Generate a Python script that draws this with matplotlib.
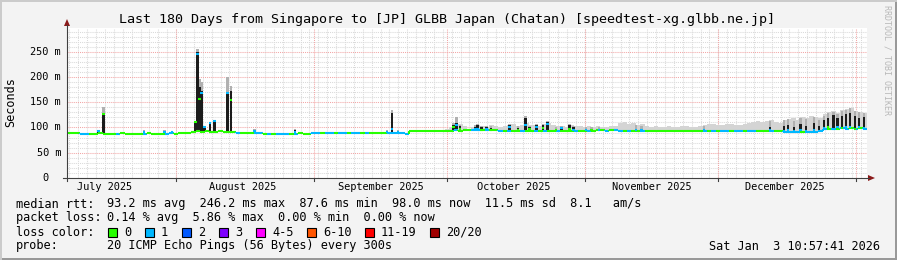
import datetime as dt
import matplotlib
matplotlib.use('Agg')
import matplotlib.pyplot as plt
from matplotlib.patches import Rectangle, Polygon
from matplotlib.lines import Line2D
from matplotlib.transforms import blended_transform_factory

W, H = 897, 260
MONO = 'DejaVu Sans Mono'

# time axis: 180 days ending Sat Jan 3 10:57:41 2026
start = dt.datetime(2025, 7, 7, 10, 57, 41)
n_days = 180

# daily median rtt (ms)
median_ms = [
    89.5, 89.2, 89.0,
    87.8, 88.0, 87.6, 88.0, 88.2, 87.8, 88.0, 87.8, 88.0, 88.2, 88.0, 87.8,
    88.0, 88.0, 87.8, 88.2, 88.0, 87.8, 88.0, 88.0, 88.2, 88.0, 88.4, 88.8,
    89.8,
    92.0, 92.5, 92.0, 92.5, 92.0, 92.0, 92.5, 92.0, 92.0, 91.5,
    89.5,
    88.5, 88.4, 88.6, 88.4, 88.5,
    88.0, 87.8, 88.0, 88.0, 87.8, 88.0, 87.8, 88.0, 88.2, 88.0, 87.8, 88.4,
    89.0, 88.8, 89.0, 89.2, 88.8, 89.0, 88.8, 89.0, 89.2, 89.0,
    88.8, 89.0, 89.0, 89.2, 88.8, 89.0, 89.0, 88.8, 89.0, 88.8,
    88.0,
    92.5, 92.4, 92.8, 93.0,
    93.4, 93.6, 93.2, 93.8, 93.5, 94.0,
    94.2, 94.0, 94.5, 94.2, 94.6,
    95.0, 94.6, 95.2, 94.8, 94.2,
    93.6, 93.8, 93.4, 93.6, 93.2, 93.8, 93.4,
    92.8, 92.6, 92.4, 92.8, 92.5, 92.6, 92.8,
    93.2, 93.6, 93.4, 93.8, 93.5, 93.6, 94.0, 93.8, 94.2, 94.4, 94.0, 94.2, 94.5,
    93.8, 94.0, 93.6, 93.8, 93.5, 93.6, 93.4, 93.5, 93.2, 93.4, 93.6,
    93.4, 93.2, 93.5, 93.4, 93.6, 93.3, 93.5, 93.4, 93.6, 93.8,
    93.5, 93.4, 93.6, 93.8, 93.5, 93.6, 93.4, 93.5, 93.6, 93.4,
    93.2, 93.5, 93.0, 93.4, 92.8, 92.5,
    91.6, 91.4, 91.8, 91.5, 91.6, 91.2, 91.5, 91.8, 92.2,
    96.5, 97.2, 98.0, 97.4, 98.2, 97.6, 98.4, 97.8, 98.2, 98.0,
]

# packets lost per day (0 or 1 of 20)
loss_per_day = [int(c) for c in (
    "000" "11" "000000" "1" "00000" "1" "0000" "11" "00000000000000"
    "1" "000" "11" "0" "101" "1101" "000" "11011" "0" "11" "0" "11" "0" "1"
    "0000" "11111" "0000000000" "1" "000" "11"
    "010010100100101001000100100010"
    "1101" "00" "1" "000000000000010" "1011011011" "000100" "111101111"
    "1010110101"
)]

# light smoke (max ping) from day 84 on
smoke_start = 84
smoke_max_ms = [
    96, 97, 100, 104, 106, 102, 98, 100,
    104, 103, 101, 104, 102, 101, 103, 104, 106, 102, 104, 108, 105, 104, 103, 106,
    108, 104, 102, 103, 101, 104, 103, 102, 101, 103, 100, 102, 101, 100, 102, 103,
    108, 110, 106, 108, 104, 106, 103,
    101, 102, 100, 101, 102, 100, 101, 103, 102, 101, 100, 102,
    104, 106, 107, 105, 104, 106, 107, 105, 104, 106, 108, 110,
    112, 110, 112, 114, 110, 108,
    114, 116, 118, 115, 120, 118, 122, 120, 118,
    126, 130, 132, 128, 134, 136, 138, 132, 130, 128,
]

# short high-latency events: day offset, median, dark smoke top, light smoke top, loss
spike_day = [7.1, 8.2, 17.3, 22.0, 23.6, 28.9, 29.3, 29.85, 30.3, 30.9, 32.2, 33.2,
             36.1, 36.9, 42.2, 51.3, 72.0, 73.1, 74.5, 86.9, 87.7, 88.4, 91.8,
             92.3, 93.2, 94.4, 95.4, 99.6, 101.5, 103.1, 104.0, 105.6, 107.1, 108.1,
             110.0, 111.3, 113.1, 114.0, 116.8, 118.0, 119.7, 128.0, 129.2, 143.3,
             158.2, 161.3, 162.2, 163.6, 165.1, 166.3, 168.1, 169.2, 170.3, 171.2,
             172.4, 173.3, 174.4, 175.3, 176.2, 177.3, 178.2, 179.3]
spike_med = [93, 126, 92, 92, 91, 110, 246, 157, 168, 100, 109, 112,
             168, 154, 93, 92, 91, 97, 92, 100, 105, 98, 98,
             97, 96, 98, 96, 101, 96, 104, 97, 101, 99, 107,
             96, 99, 98, 96, 96, 96, 95, 95, 96, 95,
             96, 94, 95, 93, 95, 94, 96, 94, 99, 100,
             98, 100, 99, 101, 100, 98, 101, 99]
spike_top = [95, 127, 94, 94, 93, 111, 250, 180, 172, 101, 110, 113,
             170, 173, 96, 96, 94, 128, 94, 104, 108, 102, 100,
             104, 100, 100, 99, 104, 99, 119, 100, 104, 104, 110,
             98, 100, 105, 100, 98, 98, 97, 98, 98, 98,
             101, 103, 105, 101, 106, 103, 108, 103, 114, 118,
             124, 118, 122, 126, 128, 122, 118, 120]
spike_smoke = [96, 140, 95, 95, 94, 112, 256, 197, 190, 102, 111, 114,
               200, 183, 97, 97, 95, 134, 95, 108, 120, 104, 104,
               106, 103, 103, 102, 106, 102, 122, 103, 106, 106, 112,
               101, 102, 106, 102, 101, 100, 100, 104, 103, 102,
               112, 114, 116, 112, 118, 116, 120, 115, 122, 128,
               130, 126, 132, 134, 138, 132, 130, 128]
spike_loss = [1, 0, 1, 1, 1, 0, 1, 0, 1, 1, 1, 1,
              1, 0, 1, 1, 1, 1, 1, 0, 1, 0, 1,
              1, 0, 1, 0, 1, 0, 1, 0, 1, 0, 1,
              0, 1, 0, 1, 1, 0, 1, 1, 1, 1,
              1, 1, 1, 1, 1, 1, 1, 1, 1, 0,
              1, 1, 0, 1, 1, 0, 1, 1]

month_names = ['July 2025', 'August 2025', 'September 2025', 'October 2025',
               'November 2025', 'December 2025']
month_firsts = [dt.datetime(2025, 7, 1), dt.datetime(2025, 8, 1), dt.datetime(2025, 9, 1),
                dt.datetime(2025, 10, 1), dt.datetime(2025, 11, 1), dt.datetime(2025, 12, 1),
                dt.datetime(2026, 1, 1)]
y_ticks = [0, 50, 100, 150, 200, 250]
y_tick_labels = ['0', '50 m', '100 m', '150 m', '200 m', '250 m']

loss_levels = ['0', '1', '2', '3', '4-5', '6-10', '11-19', '20/20']
loss_colors = ['#26ff00', '#00b8ff', '#0059ff', '#7e00ff', '#ff00ff', '#ff5500', '#ff0000', '#a10000']

title = 'Last 180 Days from Singapore to [JP] GLBB Japan (Chatan) [speedtest-xg.glbb.ne.jp]'
stat_rows = [
    ('median rtt:', '93.2 ms avg  246.2 ms max  87.6 ms min  98.0 ms now  11.5 ms sd  8.1   am/s'),
    ('packet loss:', '0.14 % avg  5.86 % max  0.00 % min  0.00 % now'),
]
probe_text = '20 ICMP Echo Pings (56 Bytes) every 300s'
stamp = 'Sat Jan  3 10:57:41 2026'


def fx(px):
    return px / W


def fy(py):
    return 1 - py / H


def day_of(t):
    return (t - start).total_seconds() / 86400.0


fig = plt.figure(figsize=(W / 100, H / 100), dpi=100, facecolor='#f3f3f3')

# 3d-ish frame
fig.add_artist(Rectangle((0, 0), 1, fy(258), transform=fig.transFigure, color='#999999', lw=0))
fig.add_artist(Rectangle((fx(895), 0), fx(2), 1, transform=fig.transFigure, color='#999999', lw=0))
fig.add_artist(Rectangle((0, fy(2)), 1, fx(2) * W / H, transform=fig.transFigure, color='#cbcbcb', lw=0))
fig.add_artist(Rectangle((0, 0), fx(2), 1, transform=fig.transFigure, color='#cbcbcb', lw=0))

ax = fig.add_axes([fx(67), fy(178), 800 / W, (178 - 27.5) / H])
ax.set_facecolor('white')
ax.set_xlim(0, n_days)
ax.set_ylim(0, 298)
ax.set_xticks([])
ax.set_yticks([])
for s in ax.spines.values():
    s.set_visible(False)

dot = (0, (1, 1))
# minor grid
for v in range(10, 298, 10):
    if v % 50:
        ax.axhline(v, color='#dadada', lw=0.75, ls=dot, zorder=0)
d = day_of(dt.datetime(2025, 7, 8))
while d < n_days:
    ax.axvline(d, color='#dadada', lw=0.75, ls=dot, zorder=0)
    d += 2
# major grid
for v in range(50, 298, 50):
    ax.axhline(v, color='#f2a6a6', lw=0.75, ls=dot, zorder=0.5)
for m in month_firsts[1:]:
    ax.axvline(day_of(m), color='#f2a6a6', lw=0.75, ls=dot, zorder=0.5)

# smoke
sm_days = [smoke_start + i for i in range(len(smoke_max_ms))]
sm_base = [median_ms[i] for i in sm_days]
ax.bar([i + 0.5 for i in sm_days], [h - b for h, b in zip(smoke_max_ms, sm_base)],
       bottom=sm_base, width=1.0, color='#d4d4d4', lw=0, zorder=1)

# spikes
sp_base = [median_ms[int(s)] for s in spike_day]
ax.bar(spike_day, [s - t for s, t in zip(spike_smoke, spike_top)], bottom=spike_top,
       width=0.6, color='#b0b0b0', lw=0, zorder=1.5)
ax.bar(spike_day, [t - b for t, b in zip(spike_top, sp_base)], bottom=sp_base,
       width=0.6, color='#1c1c1c', lw=0, zorder=2)

# median line coloured by loss
days = list(range(n_days))
cols = [loss_colors[l] for l in loss_per_day]
ax.hlines(median_ms, days, [i + 1 for i in days], colors=cols, lw=1.5, zorder=3)
ax.vlines(days[1:], median_ms[:-1], median_ms[1:], colors=cols[1:], lw=1.5, zorder=3)
ax.hlines(spike_med, [s - 0.3 for s in spike_day], [s + 0.3 for s in spike_day],
          colors=[loss_colors[l] for l in spike_loss], lw=1.5, zorder=3.5)

# axes lines and arrows
axis_c = '#404040'
arrow_c = '#8b1a1a'
fig.add_artist(Line2D([fx(63), fx(869)], [fy(178), fy(178)], transform=fig.transFigure, color=axis_c, lw=0.8))
fig.add_artist(Line2D([fx(67), fx(67)], [fy(181), fy(25)], transform=fig.transFigure, color=axis_c, lw=0.8))
fig.add_artist(Polygon([[fx(875), fy(178)], [fx(868), fy(175)], [fx(868), fy(181)]],
                       transform=fig.transFigure, color=arrow_c, lw=0))
fig.add_artist(Polygon([[fx(67), fy(19)], [fx(64), fy(26)], [fx(70), fy(26)]],
                       transform=fig.transFigure, color=arrow_c, lw=0))
for m in month_firsts[1:]:
    ax.plot([day_of(m)] * 2, [0, -5], color=axis_c, lw=0.8, clip_on=False, zorder=4)

# tick labels
ty = blended_transform_factory(fig.transFigure, ax.transData)
for v, lab in zip(y_ticks, y_tick_labels):
    xr = 48 if v == 0 else 61
    ax.text(fx(xr), v, lab, transform=ty, ha='right', va='center', fontsize=7.4, family=MONO)
tx = blended_transform_factory(ax.transData, fig.transFigure)
for name, m in zip(month_names, month_firsts):
    ax.text(day_of(m) + 15, fy(187.5), name, transform=tx, ha='center', va='center',
            fontsize=7.4, family=MONO, clip_on=False)

fig.text(fx(11), fy(102), 'Seconds', rotation=90, ha='center', va='center', fontsize=8.5, family=MONO)
fig.text(fx(447), fy(19), title, ha='center', va='center', fontsize=9.6, family=MONO)
fig.text(fx(887), fy(60), 'RRDTOOL / TOBI OETIKER', rotation=-90, ha='center', va='center',
         fontsize=6, family=MONO, color='#b8b8b8')

# legend
row_y = [204, 218, 232, 246]
for (lab, val), y in zip(stat_rows, row_y):
    fig.text(fx(16), fy(y), lab, ha='left', va='center', fontsize=8.55, family=MONO)
    fig.text(fx(107), fy(y), val, ha='left', va='center', fontsize=8.55, family=MONO)
fig.text(fx(16), fy(row_y[2]), 'loss color:', ha='left', va='center', fontsize=8.55, family=MONO)
sq_x = [108, 145, 182, 219, 256, 307, 365, 430]
for x0, lab, c in zip(sq_x, loss_levels, loss_colors):
    fig.add_artist(Rectangle((fx(x0), fy(row_y[2] + 4.5)), 9 / W, 9 / H, transform=fig.transFigure,
                             facecolor=c, edgecolor='black', lw=0.8))
    fig.text(fx(x0 + 16), fy(row_y[2]), lab, ha='left', va='center', fontsize=8.55, family=MONO)
fig.text(fx(16), fy(row_y[3]), 'probe:', ha='left', va='center', fontsize=8.55, family=MONO)
fig.text(fx(107), fy(row_y[3]), probe_text, ha='left', va='center', fontsize=8.55, family=MONO)
fig.text(fx(880), fy(row_y[3]), stamp, ha='right', va='center', fontsize=8.55, family=MONO)

fig.savefig('out.png', dpi=100, facecolor=fig.get_facecolor())
